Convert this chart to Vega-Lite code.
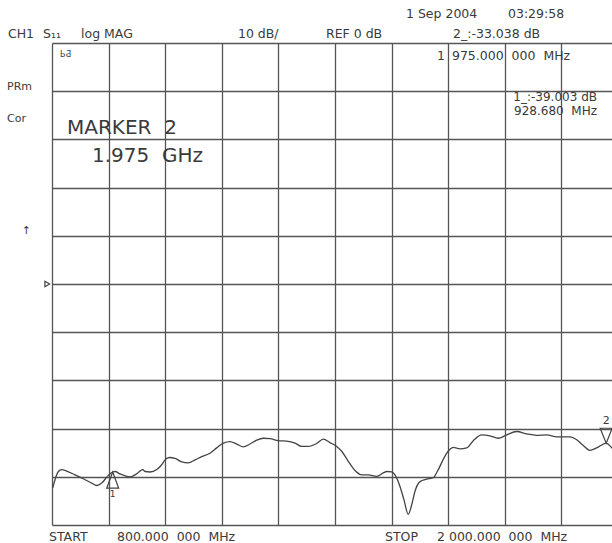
{
  "$schema": "https://vega.github.io/schema/vega-lite/v6.json",
  "width": 560,
  "height": 482,
  "autosize": {"type": "none"},
  "padding": {"left": 52, "top": 43, "right": 0, "bottom": 18},
  "background": "white",
  "config": {
    "view": {"stroke": null},
    "axis": {"grid": true, "labels": false, "ticks": false, "domain": false, "title": null, "gridColor": "#555", "gridWidth": 1.3, "gridOpacity": 1},
    "text": {"font": "DejaVu Sans", "fontSize": 12.5, "fill": "#3a3a3a", "align": "left", "baseline": "middle"}
  },
  "data": {"values": [{}]},
  "datasets": {
    "trace": [
      {"f": 801.5, "db": -42.3}, {"f": 806.4, "db": -40.6}, {"f": 813.4, "db": -38.9}, {"f": 820.6, "db": -38.5},
      {"f": 831.2, "db": -38.8}, {"f": 848.8, "db": -39.6}, {"f": 866.4, "db": -40.4}, {"f": 884.2, "db": -41.3},
      {"f": 894.8, "db": -41.8}, {"f": 905.4, "db": -41.3}, {"f": 919.4, "db": -39.7}, {"f": 928.7, "db": -39.0},
      {"f": 933.6, "db": -38.9}, {"f": 944.2, "db": -39.4}, {"f": 958.4, "db": -39.9}, {"f": 965.4, "db": -40.0},
      {"f": 976.0, "db": -39.6}, {"f": 983.0, "db": -39.1}, {"f": 992.3, "db": -38.5}, {"f": 997.2, "db": -38.9},
      {"f": 1007.8, "db": -39.0}, {"f": 1022.0, "db": -38.5}, {"f": 1032.6, "db": -37.5}, {"f": 1039.6, "db": -36.5},
      {"f": 1048.7, "db": -36.0}, {"f": 1060.8, "db": -36.2}, {"f": 1075.0, "db": -36.9}, {"f": 1089.0, "db": -37.1},
      {"f": 1103.2, "db": -36.5}, {"f": 1117.4, "db": -35.8}, {"f": 1135.0, "db": -35.1}, {"f": 1149.2, "db": -34.0},
      {"f": 1163.2, "db": -33.0}, {"f": 1177.4, "db": -32.7}, {"f": 1191.6, "db": -33.2}, {"f": 1205.6, "db": -33.8},
      {"f": 1219.8, "db": -33.2}, {"f": 1234.0, "db": -32.4}, {"f": 1248.0, "db": -32.0}, {"f": 1262.2, "db": -32.1},
      {"f": 1279.8, "db": -32.5}, {"f": 1297.6, "db": -32.6}, {"f": 1315.2, "db": -33.0}, {"f": 1329.4, "db": -33.7},
      {"f": 1343.4, "db": -33.7}, {"f": 1361.2, "db": -33.1}, {"f": 1375.2, "db": -32.2}, {"f": 1389.4, "db": -32.9},
      {"f": 1403.6, "db": -33.7}, {"f": 1414.2, "db": -34.7}, {"f": 1428.2, "db": -36.8}, {"f": 1442.4, "db": -38.7},
      {"f": 1456.6, "db": -39.6}, {"f": 1470.6, "db": -39.6}, {"f": 1488.4, "db": -39.9}, {"f": 1502.4, "db": -39.2},
      {"f": 1509.6, "db": -38.9}, {"f": 1520.2, "db": -39.0}, {"f": 1527.2, "db": -39.6}, {"f": 1537.8, "db": -42.0},
      {"f": 1546.3, "db": -44.8}, {"f": 1555.4, "db": -47.8}, {"f": 1562.6, "db": -45.8}, {"f": 1569.6, "db": -43.0},
      {"f": 1580.2, "db": -41.0}, {"f": 1594.3, "db": -40.5}, {"f": 1608.4, "db": -40.2}, {"f": 1619.0, "db": -38.5},
      {"f": 1633.2, "db": -35.7}, {"f": 1643.8, "db": -34.3}, {"f": 1650.8, "db": -33.9}, {"f": 1665.0, "db": -34.2},
      {"f": 1679.2, "db": -34.0}, {"f": 1693.2, "db": -32.5}, {"f": 1711.0, "db": -31.3}, {"f": 1728.6, "db": -31.5},
      {"f": 1746.2, "db": -32.0}, {"f": 1764.0, "db": -31.3}, {"f": 1785.2, "db": -30.6}, {"f": 1806.4, "db": -31.1},
      {"f": 1827.6, "db": -31.4}, {"f": 1848.8, "db": -31.3}, {"f": 1870.0, "db": -31.7}, {"f": 1898.2, "db": -31.7},
      {"f": 1912.4, "db": -32.3}, {"f": 1926.4, "db": -33.5}, {"f": 1940.6, "db": -34.5}, {"f": 1954.8, "db": -34.0},
      {"f": 1975.0, "db": -33.0}, {"f": 1987.2, "db": -34.0}, {"f": 2000.0, "db": -35.0}
    ]
  },
  "layer": [
    {
      "data": {"name": "trace"},
      "mark": {"type": "line", "stroke": "#444", "strokeWidth": 1.3, "interpolate": "monotone", "clip": true},
      "encoding": {
        "x": {"field": "f", "type": "quantitative", "scale": {"domain": [800, 1987.3], "nice": false, "zero": false},
              "axis": {"values": [800, 920, 1040, 1160, 1280, 1400, 1520, 1640, 1760, 1880]}},
        "y": {"field": "db", "type": "quantitative", "scale": {"domain": [-50, 50], "nice": false, "zero": false},
              "axis": {"values": [-50, -40, -30, -20, -10, 0, 10, 20, 30, 40, 50]}}
      }
    },
    {
      "mark": {"type": "point", "shape": "M0,0L1,2.7L-1,2.7Z", "filled": false, "stroke": "#444", "strokeWidth": 1.2, "size": 144, "opacity": 1},
      "encoding": {"x": {"datum": 928.68}, "y": {"datum": -39.003}}
    },
    {
      "mark": {"type": "point", "shape": "M0,0L1,-2.5L-1,-2.5Z", "filled": false, "stroke": "#444", "strokeWidth": 1.2, "size": 144, "opacity": 1},
      "encoding": {"x": {"datum": 1975}, "y": {"datum": -33.038}}
    },
    {
      "mark": {"type": "point", "shape": "triangle-right", "filled": false, "stroke": "#444", "strokeWidth": 1.2, "size": 30, "opacity": 1},
      "encoding": {"x": {"datum": 790}, "y": {"datum": 0}}
    },
    {"mark": {"type": "text", "fontSize": 9, "align": "center"}, "encoding": {"x": {"datum": 928.68}, "y": {"datum": -43.5}, "text": {"value": "1"}}},
    {"mark": {"type": "text", "fontSize": 11, "align": "center"}, "encoding": {"x": {"datum": 1975}, "y": {"datum": -28.4}, "text": {"value": "2"}}},
    {"mark": {"type": "text"}, "encoding": {"x": {"datum": 1550.5}, "y": {"datum": 56.1}, "text": {"value": "1 Sep 2004"}}},
    {"mark": {"type": "text"}, "encoding": {"x": {"datum": 1766.8}, "y": {"datum": 56.1}, "text": {"value": "03:29:58"}}},
    {"mark": {"type": "text"}, "encoding": {"x": {"datum": 706.7}, "y": {"datum": 51.9}, "text": {"value": "CH1"}}},
    {"mark": {"type": "text"}, "encoding": {"x": {"datum": 780.9}, "y": {"datum": 51.9}, "text": {"value": "S₁₁"}}},
    {"mark": {"type": "text"}, "encoding": {"x": {"datum": 861.5}, "y": {"datum": 51.9}, "text": {"value": "log MAG"}}},
    {"mark": {"type": "text"}, "encoding": {"x": {"datum": 1194.3}, "y": {"datum": 51.9}, "text": {"value": "10 dB/"}}},
    {"mark": {"type": "text"}, "encoding": {"x": {"datum": 1380.9}, "y": {"datum": 51.9}, "text": {"value": "REF 0 dB"}}},
    {"mark": {"type": "text"}, "encoding": {"x": {"datum": 1650.2}, "y": {"datum": 51.9}, "text": {"value": "2_:-33.038 dB"}}},
    {"mark": {"type": "text", "fontSize": 8}, "encoding": {"x": {"datum": 817}, "y": {"datum": 47.6}, "text": {"value": "ЬƋ"}}},
    {"mark": {"type": "text"}, "encoding": {"x": {"datum": 1616.2}, "y": {"datum": 47.4}, "text": {"value": "1"}}},
    {"mark": {"type": "text"}, "encoding": {"x": {"datum": 1648.0}, "y": {"datum": 47.4}, "text": {"value": "975.000\u00a0\u00a0000\u00a0\u00a0MHz"}}},
    {"mark": {"type": "text", "align": "right", "fontSize": 12}, "encoding": {"x": {"datum": 1955.5}, "y": {"datum": 38.7}, "text": {"value": "1_:-39.003 dB"}}},
    {"mark": {"type": "text", "align": "right", "fontSize": 12}, "encoding": {"x": {"datum": 1955.5}, "y": {"datum": 35.8}, "text": {"value": "928.680\u00a0\u00a0MHz"}}},
    {"mark": {"type": "text", "fontSize": 11}, "encoding": {"x": {"datum": 704.6}, "y": {"datum": 40.9}, "text": {"value": "PRm"}}},
    {"mark": {"type": "text", "fontSize": 11}, "encoding": {"x": {"datum": 704.6}, "y": {"datum": 34.3}, "text": {"value": "Cor"}}},
    {"mark": {"type": "text", "fontSize": 11}, "encoding": {"x": {"datum": 736}, "y": {"datum": 10.9}, "text": {"value": "↑"}}},
    {"mark": {"type": "text", "fontSize": 20}, "encoding": {"x": {"datum": 831.8}, "y": {"datum": 32.4}, "text": {"value": "MARKER\u00a0\u00a02"}}},
    {"mark": {"type": "text", "fontSize": 20}, "encoding": {"x": {"datum": 884.8}, "y": {"datum": 26.6}, "text": {"value": "1.975\u00a0\u00a0GHz"}}},
    {"mark": {"type": "text"}, "encoding": {"x": {"datum": 793.6}, "y": {"datum": -52.4}, "text": {"value": "START"}}},
    {"mark": {"type": "text"}, "encoding": {"x": {"datum": 937.8}, "y": {"datum": -52.4}, "text": {"value": "800.000\u00a0\u00a0000\u00a0\u00a0MHz"}}},
    {"mark": {"type": "text"}, "encoding": {"x": {"datum": 1506}, "y": {"datum": -52.4}, "text": {"value": "STOP"}}},
    {"mark": {"type": "text"}, "encoding": {"x": {"datum": 1616.3}, "y": {"datum": -52.4}, "text": {"value": "2\u00a0000.000\u00a0\u00a0000\u00a0\u00a0MHz"}}}
  ]
}
